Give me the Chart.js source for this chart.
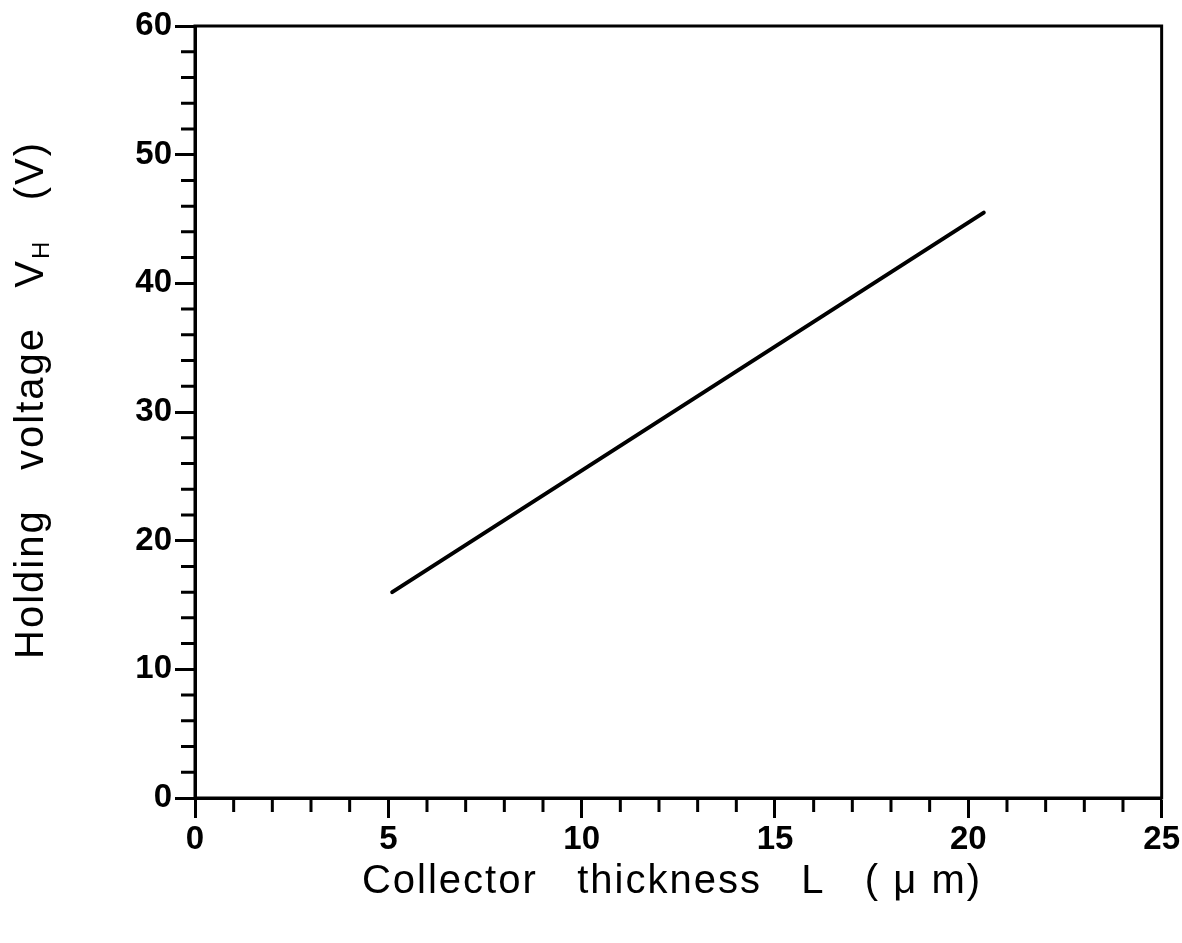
<!DOCTYPE html>
<html>
<head>
<meta charset="utf-8">
<script src="https://cdn.jsdelivr.net/npm/chart.js@4/dist/chart.umd.min.js"></script>
<style>
  html, body { margin:0; padding:0; background:#fff; }
  #wrap { width:1182px; height:943px; }
</style>
</head>
<body>
<div id="wrap"><canvas id="holdingChart" width="1182" height="943"></canvas></div>
<script>
// ── data ──────────────────────────────────────────────────────
const thicknessL   = [5.1, 20.4];     // µm
const holdingVolts = [16.0, 45.5];    // V
const xTickValues  = [0, 5, 10, 15, 20, 25];
const yTickValues  = [0, 10, 20, 30, 40, 50, 60];

const xTitle      = 'Collector   thickness   L   ( \u03BC m)';
const yTitleMain  = 'Holding   voltage   V';
const yTitleSub   = 'H';
const yTitleTail  = '   (V)';

const INK = '#000';
const FONT = '"Liberation Sans", Arial, sans-serif';

// frame, minor ticks, axis titles
const paperPlugin = {
  id: 'paper',
  afterDraw(chart) {
    const { ctx, chartArea: a, scales } = chart;
    const xs = scales.x, ys = scales.y;
    ctx.save();
    ctx.strokeStyle = INK;
    ctx.lineWidth = 3;
    ctx.strokeRect(a.left, a.top, a.right - a.left, a.bottom - a.top);

    // minor ticks
    ctx.beginPath();
    for (let v = 1; v < 25; v++) {
      if (v % 5 === 0) continue;
      const px = xs.getPixelForValue(v);
      ctx.moveTo(px, a.bottom);
      ctx.lineTo(px, a.bottom + 14);
    }
    for (let v = 2; v < 60; v += 2) {
      if (v % 10 === 0) continue;
      const py = ys.getPixelForValue(v);
      ctx.moveTo(a.left, py);
      ctx.lineTo(a.left - 14, py);
    }
    ctx.stroke();

    // x title
    ctx.fillStyle = INK;
    ctx.font = '40px ' + FONT;
    ctx.letterSpacing = '2px';
    ctx.textAlign = 'center';
    ctx.textBaseline = 'middle';
    ctx.fillText(xTitle, 672, 882);

    // y title with subscript
    ctx.translate(32, 400);
    ctx.rotate(-Math.PI / 2);
    const big = '40px ' + FONT;
    const small = '24px ' + FONT;
    ctx.font = big;
    const w1 = ctx.measureText(yTitleMain).width;
    const w3 = ctx.measureText(yTitleTail).width;
    ctx.font = small;
    const w2 = ctx.measureText(yTitleSub).width;
    const x0 = -(w1 + w2 + w3) / 2;
    ctx.textAlign = 'left';
    ctx.font = big;
    ctx.fillText(yTitleMain, x0, 0);
    ctx.font = small;
    ctx.fillText(yTitleSub, x0 + w1, 10);
    ctx.font = big;
    ctx.fillText(yTitleTail, x0 + w1 + w2, 0);
    ctx.restore();
  }
};

new Chart(document.getElementById('holdingChart'), {
  type: 'scatter',
  data: {
    datasets: [{
      data: thicknessL.map((x, i) => ({ x, y: holdingVolts[i] })),
      showLine: true,
      borderColor: INK,
      borderWidth: 4,
      borderCapStyle: 'round',
      pointRadius: 0,
      fill: false
    }]
  },
  options: {
    responsive: false,
    animation: false,
    layout: { padding: { top: 26, right: 20, bottom: 0, left: 0 } },
    plugins: { legend: { display: false }, tooltip: { enabled: false } },
    scales: {
      x: {
        type: 'linear', min: 0, max: 25,
        afterBuildTicks: s => { s.ticks = xTickValues.map(v => ({ value: v })); },
        afterFit: s => { s.height = 145; },
        grid: { drawOnChartArea: false, tickLength: 20, tickWidth: 3, tickColor: INK },
        border: { color: INK, width: 3 },
        ticks: { color: INK, padding: 2, maxRotation: 0,
                 font: { family: FONT, size: 33, weight: 'bold' } }
      },
      y: {
        type: 'linear', min: 0, max: 60,
        afterBuildTicks: s => { s.ticks = yTickValues.map(v => ({ value: v })); },
        afterFit: s => { s.width = 195; },
        grid: { drawOnChartArea: false, tickLength: 20, tickWidth: 3, tickColor: INK },
        border: { color: INK, width: 3 },
        ticks: { color: INK, padding: 3,
                 font: { family: FONT, size: 33, weight: 'bold' } }
      }
    }
  },
  plugins: [paperPlugin]
});
</script>
</body>
</html>
